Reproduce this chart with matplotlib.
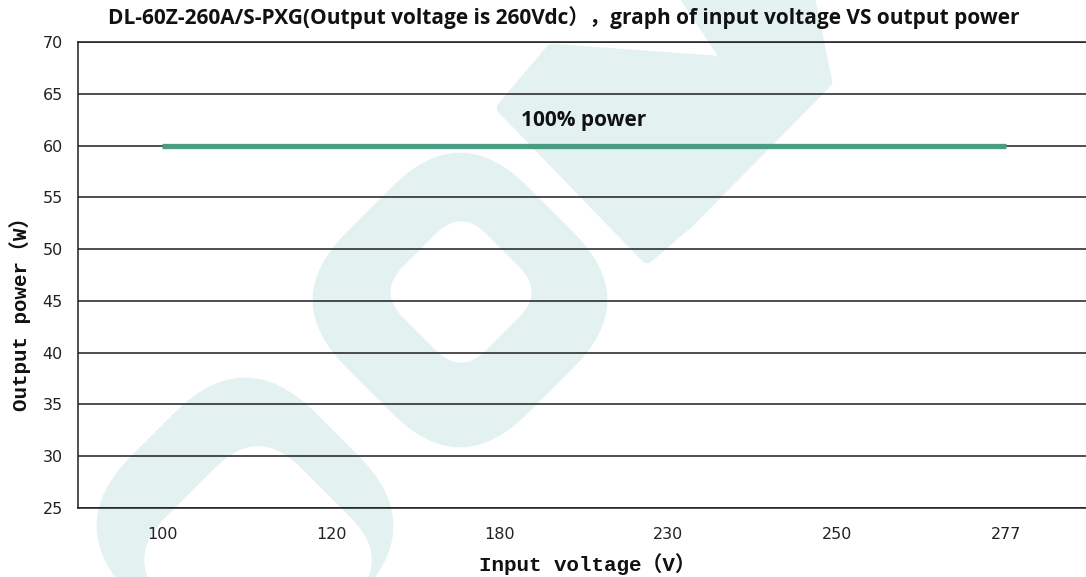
import matplotlib
matplotlib.use("Agg")
import matplotlib.pyplot as plt
from matplotlib.patches import FancyBboxPatch, Polygon
from matplotlib.transforms import Affine2D

# ---- data ----
input_voltage = ["100", "120", "180", "230", "250", "277"]
output_power = [60, 60, 60, 60, 60, 60]
y_ticks = [25, 30, 35, 40, 45, 50, 55, 60, 65, 70]
title = "DL-60Z-260A/S-PXG(Output voltage is 260Vdc），graph of input voltage VS output power"
series_label = "100% power"
x_label = "Input voltage（V）"
y_label = "Output power（W）"

W, H = 1086, 577
fig = plt.figure(figsize=(W / 100, H / 100), dpi=100, facecolor="white")

# ---- watermark background (decorative) ----
bg = fig.add_axes([0, 0, 1, 1], zorder=-1)
bg.set_xlim(0, W)
bg.set_ylim(H, 0)
bg.axis("off")
wm = "#e3f1f1"

def rdiamond(cx, cy, s, r, color):
    p = FancyBboxPatch((cx - s / 2, cy - s / 2), s, s,
                       boxstyle=f"round,pad=0,rounding_size={r}",
                       facecolor=color, edgecolor="none")
    p.set_transform(Affine2D().rotate_deg_around(cx, cy, 45) + bg.transData)
    bg.add_patch(p)

bg.add_patch(Polygon([(503, 108), (552, 50), (730, 63), (675, -20), (805, -20),
                      (826, 82), (688, 222), (647, 257)], closed=True,
                     facecolor=wm, edgecolor=wm, lw=9, joinstyle="round"))
rdiamond(460, 300, 256, 95, wm)
rdiamond(461, 292, 118, 36, "white")
rdiamond(245, 526, 260, 100, wm)
rdiamond(258, 560, 191, 60, "white")

# ---- main chart ----
ax = fig.add_axes([78 / W, 1 - 508 / H, (1090 - 78) / W, (508 - 42) / H])
ax.set_facecolor("none")
x = list(range(len(input_voltage)))
ax.plot(x, output_power, color="#4a9d82", lw=3.8, solid_capstyle="butt", zorder=3)

ax.set_xlim(-0.5, len(input_voltage) - 0.5)
ax.set_ylim(min(y_ticks), max(y_ticks))
ax.set_yticks(y_ticks)
ax.set_xticks(x)
ax.set_xticklabels(input_voltage)
ax.yaxis.grid(True, color="#1e1e1e", lw=1.1)
ax.set_axisbelow(True)
ax.spines["right"].set_visible(False)
for side in ["left", "bottom", "top"]:
    ax.spines[side].set_color("#1e1e1e")
    ax.spines[side].set_linewidth(1.1)

ax.tick_params(axis="both", length=0, colors="#222222")
ax.tick_params(axis="y", pad=11)
ax.tick_params(axis="x", pad=14)
for lab in ax.get_xticklabels() + ax.get_yticklabels():
    lab.set_fontfamily("DejaVu Sans")
    lab.set_fontsize(11.5)

ax.text(2.50, 62.4, series_label, ha="center", va="center",
        fontsize=15, fontweight="bold", family=["Open Sans", "DejaVu Sans"], color="#111111")

lab_font = ["Liberation Mono", "Noto Sans CJK SC"]
ax.set_xlabel(x_label, fontsize=15, fontweight="bold", family=lab_font, color="#111111")
ax.xaxis.set_label_coords((587 - 78) / (1090 - 78), -(564 - 508) / (508 - 42))
ax.set_ylabel(y_label, fontsize=15, fontweight="bold", family=lab_font, color="#111111")
ax.yaxis.set_label_coords(-(78 - 20) / (1090 - 78), (508 - 309) / (508 - 42))
ax.xaxis.label.set_va("center")
ax.yaxis.label.set_va("center")

fig.text(564 / W, 1 - 18 / H, title, ha="center", va="center", fontsize=15,
         fontweight="bold", family=["Open Sans", "Noto Sans CJK SC"], color="#111111")

fig.savefig("out.png", dpi=100, facecolor="white")
